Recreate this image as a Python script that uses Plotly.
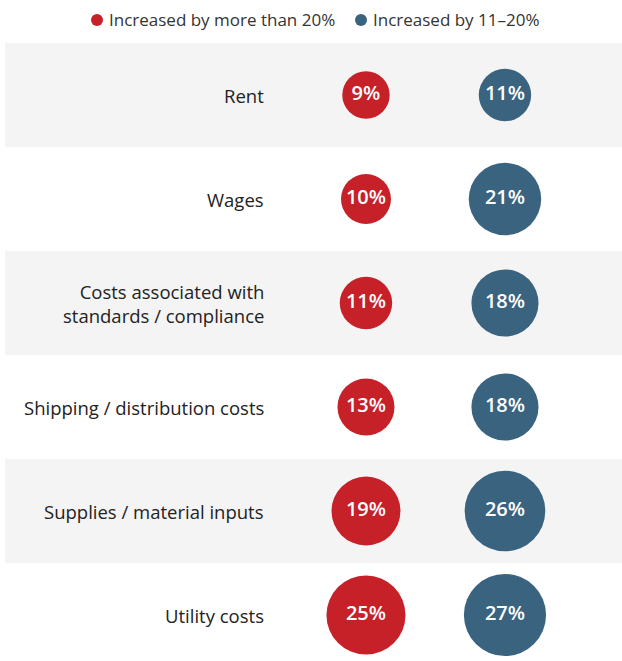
import plotly.graph_objects as go

categories = ["Rent", "Wages", "Costs associated with<br>standards / compliance",
              "Shipping / distribution costs", "Supplies / material inputs", "Utility costs"]
more_than_20 = [9, 10, 11, 13, 19, 25]
between_11_20 = [11, 21, 18, 18, 26, 27]
series_names = ["Increased by more than 20%", "Increased by 11–20%"]
colors = ["#c62128", "#3a6380"]

FONT = "Open Sans"
rows = list(range(len(categories)))
fig = go.Figure()

for idx, (vals, name, col) in enumerate(zip([more_than_20, between_11_20], series_names, colors)):
    fig.add_trace(go.Scatter(
        x=[idx + 1] * len(vals), y=rows, mode="markers+text",
        name=name,
        marker=dict(size=vals, sizemode="area", sizeref=1 / 125, color=col, opacity=1,
                    line=dict(width=0)),
        text=[f"{v}%" for v in vals], textposition="middle center",
        textfont=dict(color="white", size=20, family=FONT, weight=600),
        hoverinfo="skip", showlegend=False,
    ))

shapes = []
for i in rows:
    if i % 2 == 0:
        shapes.append(dict(type="rect", xref="paper", x0=0, x1=1, yref="y", y0=i - 0.5, y1=i + 0.5,
                           fillcolor="#f4f4f4", line=dict(width=0), layer="below"))

annotations = [dict(x=0.281, y=i, xref="x", yref="y", text=c, showarrow=False, xanchor="right",
                    align="right", font=dict(family=FONT, size=18.5, color="#222222"))
               for i, c in zip(rows, categories)]

# manual legend (pixel positions converted to paper coordinates)
PLOT_L, PLOT_W, PLOT_T, PLOT_H = 5, 617, 43, 618
def px_x(p):
    return (p - PLOT_L) / PLOT_W
def px_y(p):
    return 1 + (PLOT_T - p) / PLOT_H

legend_dot_x = [97, 361]
legend_y = 20
for name, col, dx in zip(series_names, colors, legend_dot_x):
    shapes.append(dict(type="circle", xref="paper", yref="paper",
                       x0=px_x(dx - 6), x1=px_x(dx + 6), y0=px_y(legend_y + 6), y1=px_y(legend_y - 6),
                       fillcolor=col, line=dict(width=0)))
    annotations.append(dict(x=px_x(dx + 10), y=px_y(legend_y), xref="paper", yref="paper",
                            text=name, showarrow=False, xanchor="left", yanchor="middle",
                            font=dict(family=FONT, size=17, color="#333333")))

fig.update_layout(
    width=622, height=661,
    margin=dict(l=5, r=0, t=43, b=0),
    paper_bgcolor="white", plot_bgcolor="white",
    xaxis=dict(range=[-1.597, 2.842], visible=False, fixedrange=True),
    yaxis=dict(range=[5.442, -0.5], visible=False, fixedrange=True),
    shapes=shapes, annotations=annotations,
    showlegend=False,
)

fig.write_html("out.html", config={"displayModeBar": False},
               post_script="document.body.style.margin='0px';")
